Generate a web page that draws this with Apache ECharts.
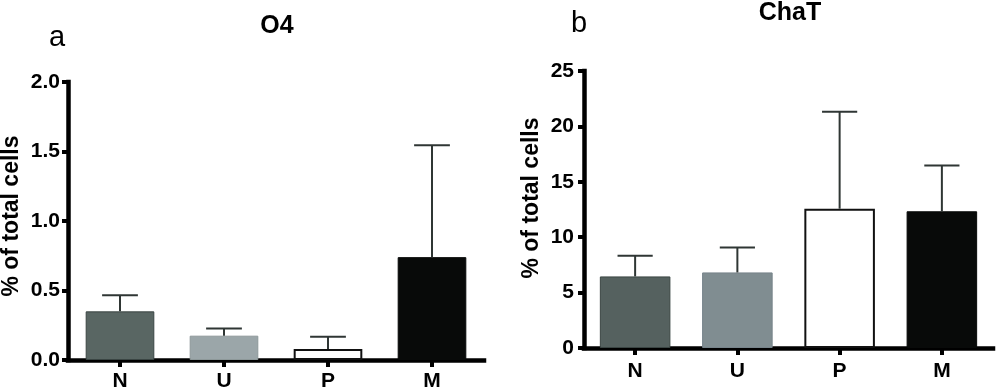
<!DOCTYPE html>
<html>
<head>
<meta charset="utf-8">
<script src="https://cdn.jsdelivr.net/npm/echarts@6/dist/echarts.min.js"></script>
<style>
html,body{margin:0;padding:0;background:#fff;}
#chart{width:1000px;height:392px;}
</style>
</head>
<body>
<div id="chart"></div>
<script>
// ---- data ----
const categories = ['N', 'U', 'P', 'M'];
const o4Means = [0.35, 0.175, 0.08, 0.74];
const o4Sem = [0.115, 0.052, 0.087, 0.805];
const chatMeans = [6.46, 6.82, 12.57, 12.34];
const chatSem = [1.86, 2.26, 8.75, 4.12];
const o4Ticks = ['0.0', '0.5', '1.0', '1.5', '2.0'];
const chatTicks = ['0', '5', '10', '15', '20', '25'];

const FONT = '"Liberation Sans", Arial, Helvetica, sans-serif';
const leftColors = [
  { color: '#596663', borderColor: '#3a4543', borderWidth: 1 },
  { color: '#9ba6a9', borderColor: '#8d9899', borderWidth: 1 },
  { color: '#ffffff', borderColor: '#111111', borderWidth: 2 },
  { color: '#080a09', borderColor: '#080a09', borderWidth: 1 }
];
const rightColors = [
  { color: '#55615f', borderColor: '#3a4543', borderWidth: 1 },
  { color: '#808d91', borderColor: '#76838a', borderWidth: 1 },
  { color: '#ffffff', borderColor: '#111111', borderWidth: 2 },
  { color: '#080a09', borderColor: '#080a09', borderWidth: 1 }
];

function barData(means, styles) {
  return means.map((v, i) => ({ value: v, itemStyle: styles[i] }));
}
function errData(means, sems) {
  return means.map((v, i) => [i, v, v + sems[i]]);
}
function renderErr(params, api) {
  const i = api.value(0);
  const p0 = api.coord([i, api.value(1)]);
  const p1 = api.coord([i, api.value(2)]);
  const half = api.size([1, 0])[0] * 0.172;
  const style = { stroke: '#2f3634', lineWidth: 2 };
  return {
    type: 'group',
    children: [
      { type: 'line', shape: { x1: p0[0], y1: p0[1], x2: p1[0], y2: p1[1] }, style },
      { type: 'line', shape: { x1: p1[0] - half, y1: p1[1], x2: p1[0] + half, y2: p1[1] }, style }
    ]
  };
}

const axisLineStyle = { color: '#000', width: 4.5, cap: 'square' };
const tickStyle = { color: '#000', width: 4, cap: 'butt' };

function xAxisCfg(gridIndex, margin) {
  return {
    type: 'category', gridIndex, data: categories,
    axisLine: { show: true, lineStyle: axisLineStyle },
    axisTick: { show: true, alignWithLabel: true, length: 7, lineStyle: tickStyle },
    axisLabel: { color: '#000', fontWeight: 'bold', fontSize: 21, fontFamily: FONT, margin }
  };
}
function yAxisCfg(gridIndex, max, interval, ticks, margin) {
  return {
    type: 'value', gridIndex, min: 0, max, interval,
    splitLine: { show: false },
    axisLine: { show: true, lineStyle: axisLineStyle },
    axisTick: { show: true, length: 6, lineStyle: tickStyle },
    axisLabel: {
      color: '#000', fontWeight: 'bold', fontSize: 21, fontFamily: FONT, margin,
      formatter: (v) => ticks[Math.round(v / interval)]
    }
  };
}

function label(text, x, y, font, align, rotation) {
  return { type: 'text', x, y, rotation: rotation || 0,
    style: { text, font: font + ' ' + FONT, fill: '#000', align: align, verticalAlign: 'middle' } };
}

const option = {
  animation: false,
  backgroundColor: '#fff',
  graphic: [
    label('O4', 277, 26, 'bold 25px', 'center'),
    label('ChaT', 790, 13, 'bold 25px', 'center'),
    label('a', 49, 38, '29px', 'left'),
    label('b', 571, 24, '29px', 'left'),
    label('% of total cells', 12, 216, 'bold 23px', 'center', Math.PI / 2),
    label('% of total cells', 532, 198, 'bold 23px', 'center', Math.PI / 2)
  ],
  grid: [
    { left: 68, right: 516, top: 82, bottom: 31 },
    { left: 584, right: 7, top: 71, bottom: 44 }
  ],
  xAxis: [xAxisCfg(0, 11), xAxisCfg(1, 13)],
  yAxis: [yAxisCfg(0, 2, 0.5, o4Ticks, 8), yAxisCfg(1, 25, 5, chatTicks, 10)],
  series: [
    { type: 'bar', xAxisIndex: 0, yAxisIndex: 0, barWidth: '66%', data: barData(o4Means, leftColors), z: 2 },
    { type: 'custom', xAxisIndex: 0, yAxisIndex: 0, renderItem: renderErr, data: errData(o4Means, o4Sem), z: 3 },
    { type: 'bar', xAxisIndex: 1, yAxisIndex: 1, barWidth: '69%', data: barData(chatMeans, rightColors), z: 2 },
    { type: 'custom', xAxisIndex: 1, yAxisIndex: 1, renderItem: renderErr, data: errData(chatMeans, chatSem), z: 3 }
  ]
};

const chart = echarts.init(document.getElementById('chart'), null, { renderer: 'canvas' });
chart.setOption(option);
</script>
</body>
</html>
